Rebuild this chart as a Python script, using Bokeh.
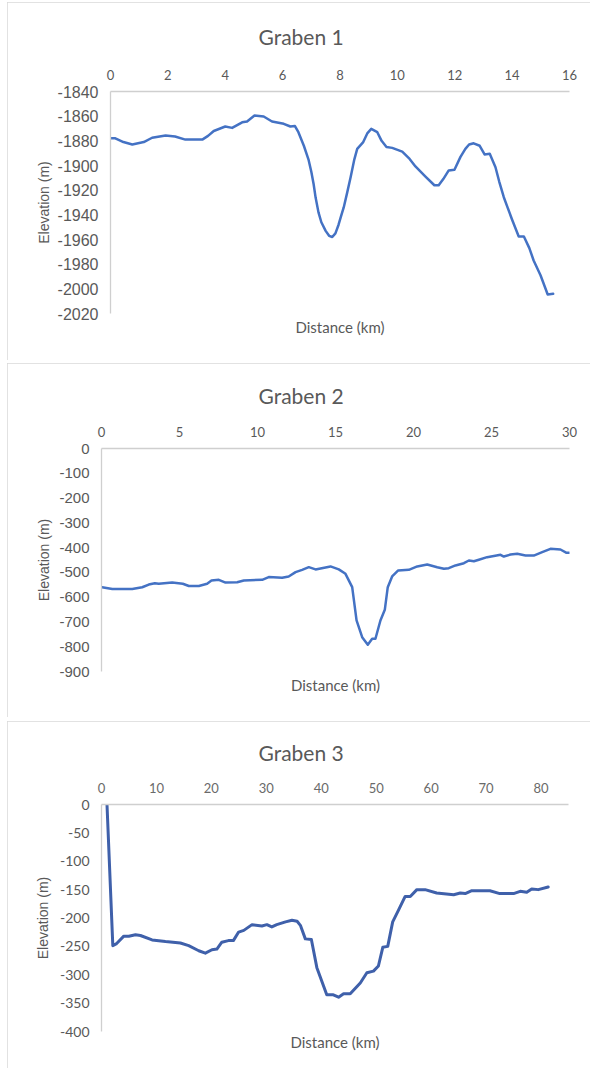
from bokeh.plotting import figure
from bokeh.models import LinearAxis, FixedTicker, Range1d, PrintfTickFormatter
from bokeh.layouts import column, row
from bokeh.embed import file_html
from bokeh.resources import INLINE

# ---------------- data ----------------
g1_title = "Graben 1"
g1_dist = [0, 0.17, 0.45, 0.76, 1.16, 1.45, 1.92, 2.25, 2.61, 3.2, 3.4, 3.6, 4.0, 4.24,
           4.59, 4.76, 5.02, 5.34, 5.63, 6.04, 6.27, 6.43, 6.55, 6.74, 6.9, 7.0, 7.08, 7.15,
           7.25, 7.35, 7.5, 7.62, 7.73, 7.84, 7.95, 8.05, 8.13, 8.25, 8.37, 8.5, 8.6, 8.81,
           8.95, 9.09, 9.3, 9.45, 9.62, 9.82, 10.17, 10.4, 10.63, 10.98, 11.29, 11.44,
           11.6, 11.79, 11.99, 12.2, 12.37, 12.5, 12.66, 12.87, 13.04, 13.22, 13.42, 13.55,
           13.71, 14.0, 14.23, 14.41, 14.6, 14.75, 14.99, 15.24, 15.43]
g1_elev = [-1878, -1878, -1881, -1883, -1881, -1877.5, -1875.7, -1876.5, -1879, -1879,
           -1876, -1872, -1868.4, -1869.5, -1865, -1864.3, -1859.5, -1860.3, -1864.3,
           -1866.2, -1868.4, -1868, -1873, -1884, -1895, -1905, -1915, -1926, -1938, -1946,
           -1953, -1957, -1958, -1955, -1948, -1940, -1934, -1922, -1909.5, -1895, -1886.5,
           -1881, -1874, -1870.3, -1873, -1880, -1885, -1885.7, -1888.7, -1894, -1900.8,
           -1909, -1916, -1916, -1911, -1904, -1903.5, -1893, -1886.5, -1883, -1882, -1884,
           -1891, -1890.5, -1901.4, -1913, -1925.7, -1944, -1957.6, -1957.6, -1967, -1977,
           -1989, -2004.6, -2004]
g1_xticks = [0, 2, 4, 6, 8, 10, 12, 14, 16]
g1_yticks = [-1840, -1860, -1880, -1900, -1920, -1940, -1960, -1980, -2000, -2020]

g2_title = "Graben 2"
g2_dist = [0.04, 0.69, 1.97, 2.61, 3.03, 3.42, 3.67, 4.53, 5.21, 5.6, 6.24, 6.77, 7.05,
           7.52, 7.95, 8.7, 9.12, 10.3, 10.72, 11.58, 12.0, 12.44, 12.86, 13.29, 13.72,
           14.68, 15.21, 15.64, 16.07, 16.35, 16.71, 17.07, 17.35, 17.56, 17.88, 18.16,
           18.35, 18.63, 19.02, 19.7, 20.24, 20.88, 21.52, 21.95, 22.26, 22.69, 23.23,
           23.55, 23.87, 24.19, 24.72, 25.58, 25.79, 26.22, 26.65, 27.18, 27.71, 28.25,
           28.78, 29.42, 29.81, 30.0]
g2_elev = [-560, -567, -567, -560, -549, -543.5, -546, -541, -546, -555, -555, -546,
           -532.7, -530, -541, -539.5, -532.7, -530, -519, -522, -516.5, -499, -489.6,
           -479, -488, -476, -488, -505.8, -559.6, -694, -761.5, -792, -768, -768, -694,
           -651, -559.6, -516.5, -492, -489.6, -476, -468, -479, -485.6, -483, -472, -463,
           -452, -455, -449, -438.6, -429, -436, -428, -425, -432, -432, -418.5, -405,
           -407.6, -421, -421]
g2_xticks = [0, 5, 10, 15, 20, 25, 30]
g2_yticks = [0, -100, -200, -300, -400, -500, -600, -700, -800, -900]

g3_title = "Graben 3"
g3_dist = [1.0, 2.06, 2.67, 4.06, 4.97, 6.18, 7.09, 9.21, 11.64, 14.36, 15.87, 17.7,
           18.9, 20.1, 21.0, 21.9, 23.1, 24.0, 24.96, 25.9, 27.4, 29.2, 30.1, 31.0, 31.9,
           33.5, 34.67, 35.6, 36.2, 37.1, 38.2, 39.2, 41.0, 42.2, 43.15, 44.06, 45.27,
           47.1, 48.3, 49.5, 50.4, 51.2, 52.1, 53.0, 54.06, 55.27, 56.2, 57.4, 58.9, 61.0,
           64.1, 65.3, 66.2, 67.4, 70.7, 72.5, 75.0, 76.2, 77.4, 78.3, 79.5, 81.3]
g3_elev = [0, -248.7, -245.7, -232, -232, -229.6, -230.8, -238.6, -241.6, -244, -248.7,
           -257.7, -262, -256, -254.7, -242.7, -239.8, -239.8, -224.8, -221.8, -211.7,
           -214, -211.7, -215.8, -211.7, -206.8, -203.9, -205.7, -212.9, -236.8, -238,
           -287.5, -335.4, -335.4, -339.6, -333.6, -333.6, -314.5, -296.5, -293.6, -284.6,
           -251.7, -250, -206.9, -186, -162, -162, -150, -150, -156, -159, -156, -157,
           -151.9, -151.9, -157, -157, -153, -154.8, -148.9, -150, -145.3]
g3_xticks = [0, 10, 20, 30, 40, 50, 60, 70, 80]
g3_yticks = [0, -50, -100, -150, -200, -250, -300, -350, -400]

TXT = "#595959"
AXL = "#cfcfcf"


def panel(title, xs, ys, xr, yr, xticks, yticks, height, top, bottom, left, right,
          color, lw, ytick_font, ytick_size, title_standoff, ylab_standoff,
          xlab_standoff, title_offset, xlab_color=TXT):
    p = figure(width=583, height=height, x_range=Range1d(*xr), y_range=Range1d(*yr),
               x_axis_location="above", output_backend="svg", toolbar_location=None,
               min_border_left=left, min_border_right=right, min_border_top=top,
               min_border_bottom=bottom)
    p.line(xs, ys, line_color=color, line_width=lw, line_join="round", line_cap="round")
    p.xgrid.visible = False
    p.ygrid.visible = False
    p.outline_line_color = None
    p.background_fill_color = "white"
    p.border_fill_color = "white"
    p.styles = {"outline": "1px solid #d9d9d9", "outline-offset": "-1px"}

    p.title.text = title
    p.title.align = "left"
    p.title.text_font = "Lato"
    p.title.text_font_size = "21px"
    p.title.text_font_style = "normal"
    p.title.text_color = TXT
    p.title.standoff = title_standoff
    p.title.offset = title_offset

    for ax in (p.xaxis[0], p.yaxis[0]):
        ax.axis_line_color = AXL
        ax.axis_line_width = 1.3
        ax.major_tick_out = 0
        ax.major_tick_in = 0
        ax.minor_tick_out = 0
        ax.minor_tick_in = 0
        ax.major_label_text_color = xlab_color

    xa = p.xaxis[0]
    xa.ticker = FixedTicker(ticks=xticks)
    xa.major_label_text_font = "Lato"
    xa.major_label_text_font_size = "13px"
    xa.major_label_standoff = 12

    ya = p.yaxis[0]
    ya.ticker = FixedTicker(ticks=yticks)
    ya.formatter = PrintfTickFormatter(format="%d")
    ya.major_label_text_font = ytick_font
    ya.major_label_text_font_size = ytick_size
    ya.major_label_text_color = TXT
    ya.major_label_standoff = 12
    ya.axis_label = "Elevation (m)"
    ya.axis_label_text_font = "Liberation Sans"
    ya.axis_label_text_font_size = "14px"
    ya.axis_label_text_font_style = "normal"
    ya.axis_label_text_color = TXT
    ya.axis_label_standoff = ylab_standoff

    b = LinearAxis(ticker=FixedTicker(ticks=[]), axis_label="Distance (km)",
                   axis_line_color=None, major_tick_out=0, major_tick_in=0,
                   minor_tick_out=0, minor_tick_in=0, major_label_standoff=0,
                   axis_label_standoff=xlab_standoff, axis_label_text_font="Lato",
                   axis_label_text_font_size="15px", axis_label_text_font_style="normal",
                   axis_label_text_color=TXT)
    p.add_layout(b, "below")
    return p


p1 = panel(g1_title, g1_dist, g1_elev, (0, 16), (-2020, -1840), g1_xticks, g1_yticks,
           358, 89, 47, 103, 21, "#4472C4", 2.5, "Liberation Sans", "16px", 36, 3, 4, 148)
p2 = panel(g2_title, g2_dist, g2_elev, (0, 30), (-900, 0), g2_xticks, g2_yticks,
           354, 85, 46, 94, 21, "#4472C4", 2.5, "Liberation Sans", "15px", 32, 4, 4, 157)
p3 = panel(g3_title, g3_dist, g3_elev, (0, 85), (-400, 0), g3_xticks, g3_yticks,
           347, 83, 37, 94, 22, "#3F60AA", 3, "Lato", "14px", 30, 6, 1, 157,
           xlab_color="#6a6a6a")
p1.margin = (2, 0, 0, 7)
p2.margin = (3, 0, 0, 7)
p3.margin = (4, 0, 0, 7)

layout = column(row(p1), row(p2), row(p3), spacing=0)
open("out.html", "w").write(file_html(layout, INLINE))
